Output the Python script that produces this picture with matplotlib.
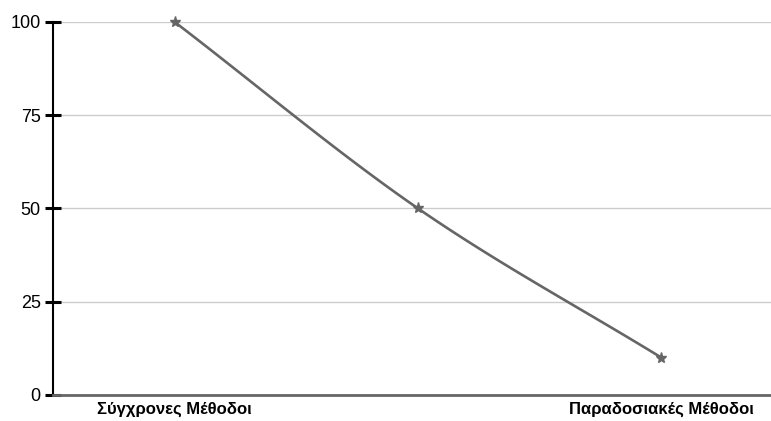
import numpy as np
import matplotlib
matplotlib.use('Agg')
import matplotlib.pyplot as plt

plt.rcParams['font.family'] = ['Liberation Sans', 'DejaVu Sans']

categories = ['Σύγχρονες Μέθοδοι', '', 'Παραδοσιακές Μέθοδοι']
values = [100, 50, 10]
yticks = [0, 25, 50, 75, 100]

x = np.arange(len(values))
y = np.array(values, dtype=float)

# smooth curve through the points (hermite with central tangents)
m = np.zeros_like(y)
m[1:-1] = (y[2:] - y[:-2]) / 2
m[0] = y[1] - y[0]
m[-1] = y[-1] - y[-2]
xs, ys = [], []
for i in range(len(y) - 1):
    s = np.linspace(0, 1, 60)
    h00 = 2*s**3 - 3*s**2 + 1
    h10 = s**3 - 2*s**2 + s
    h01 = -2*s**3 + 3*s**2
    h11 = s**3 - s**2
    xs.append(x[i] + s)
    ys.append(h00*y[i] + h10*m[i] + h01*y[i+1] + h11*m[i+1])
xs = np.concatenate(xs)
ys = np.concatenate(ys)

fig = plt.figure(figsize=(7.71, 4.21), dpi=100)
ax = fig.add_axes([0.0687, 0.0618, 0.9313, 0.886])

ax.plot(xs, ys, color='#666666', lw=1.9, zorder=3, clip_on=False)
ax.plot(x, y, ls='none', marker='*', ms=8, color='#666666', zorder=4, clip_on=False)

ax.set_xlim(-0.5, 2.45)
ax.set_ylim(0, 100)
ax.set_yticks(yticks)
ax.set_yticklabels([str(v) for v in yticks], fontsize=13)
ax.set_xticks(x)
ax.set_xticklabels(categories, fontsize=12, fontweight='bold')
ax.tick_params(axis='x', length=0, pad=5)
ax.tick_params(axis='y', length=11.5, width=2.2, direction='inout', color='black', pad=3)

ax.grid(axis='y', color='#cccccc', lw=1)
ax.set_axisbelow(True)
for s in ['top', 'right']:
    ax.spines[s].set_visible(False)
ax.spines['left'].set_linewidth(1.5)
ax.spines['bottom'].set_color('#666666')
ax.spines['bottom'].set_linewidth(2)

plt.savefig('out.png', dpi=100)
